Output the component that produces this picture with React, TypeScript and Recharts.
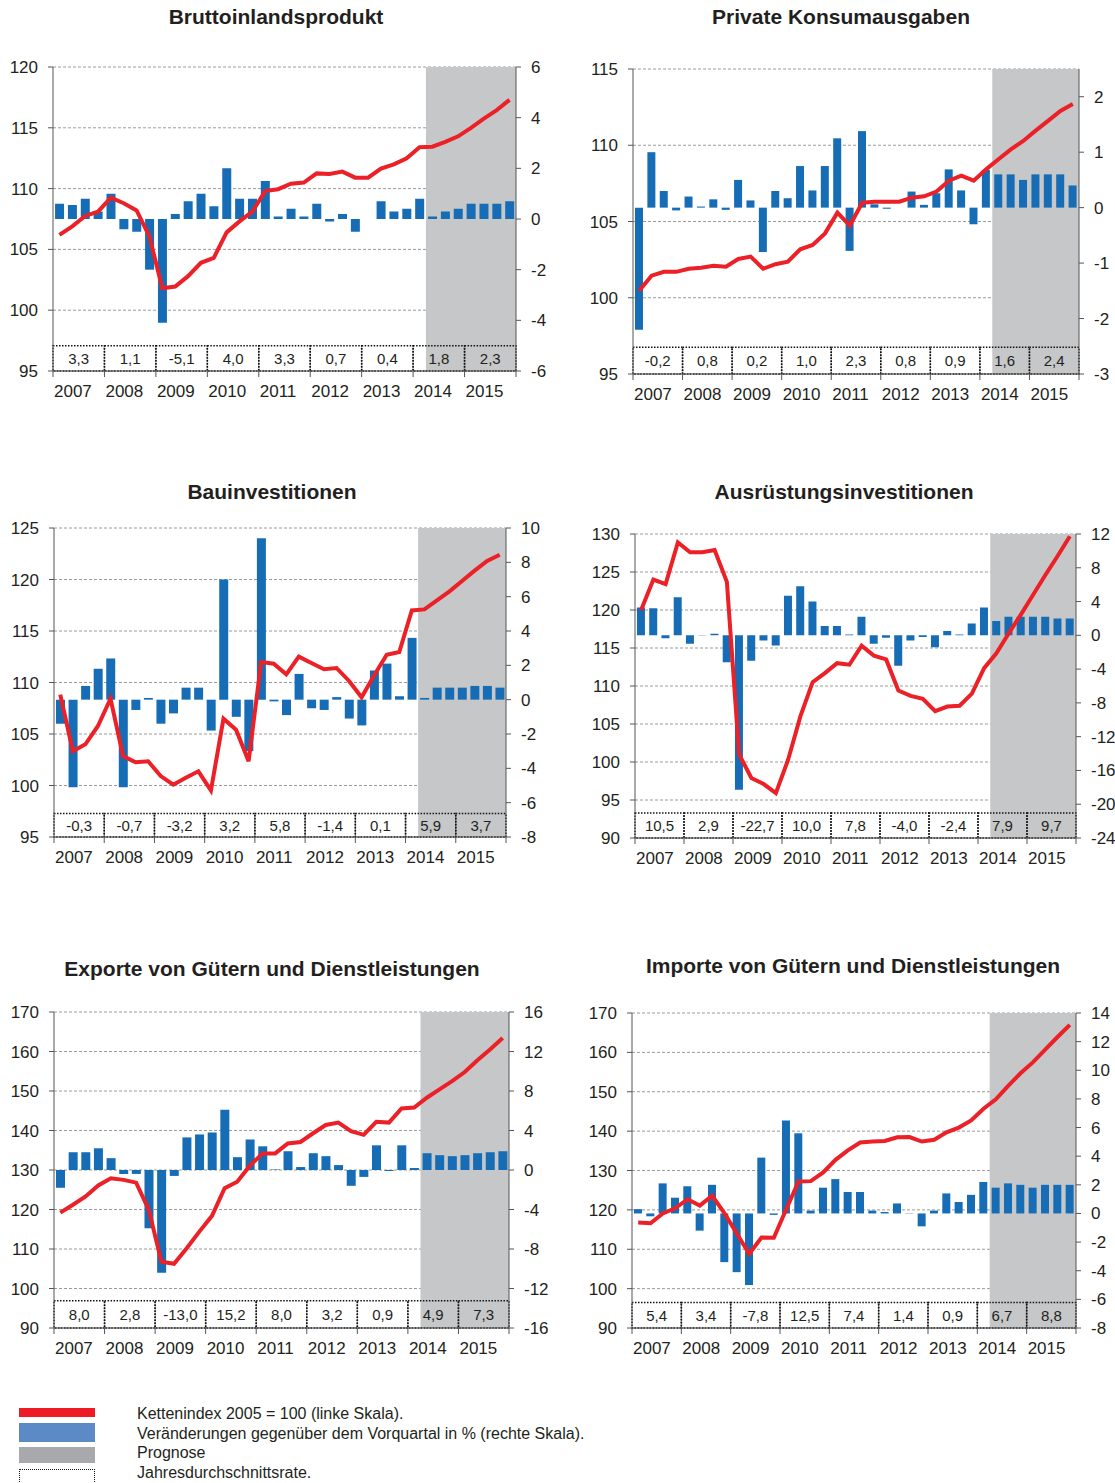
import React from 'react';
import { ComposedChart, Bar, Line, XAxis, YAxis, CartesianGrid, ReferenceArea } from 'recharts';

const YEARS = [2007, 2008, 2009, 2010, 2011, 2012, 2013, 2014, 2015];
const QUARTERS = YEARS.flatMap((y) => [1, 2, 3, 4].map((q) => `${y}Q${q}`));
const FORECAST_START = '2014Q2';
const FORECAST_END = '2015Q4';

// Bruttoinlandsprodukt
const bipIndex = [106.2, 106.9, 107.75, 108.1, 109.25, 108.8, 108.2, 106.05, 101.8, 101.95, 102.8, 103.9, 104.3, 106.4, 107.3, 108.1, 109.8, 109.95, 110.4, 110.5, 111.25, 111.2, 111.4, 110.9, 110.9, 111.65, 112.0, 112.5, 113.4, 113.45, 113.85, 114.3, 115.0, 115.75, 116.45, 117.3];
const bipChange = [0.6, 0.55, 0.8, 0.3, 1.0, -0.4, -0.5, -2.0, -4.1, 0.2, 0.7, 1.0, 0.5, 2.0, 0.8, 0.8, 1.5, 0.1, 0.4, 0.1, 0.6, -0.1, 0.2, -0.5, 0.0, 0.7, 0.3, 0.4, 0.8, 0.1, 0.3, 0.4, 0.6, 0.6, 0.6, 0.7];
const bipAnnual = ['3,3', '1,1', '-5,1', '4,0', '3,3', '0,7', '0,4', '1,8', '2,3'];

// Private Konsumausgaben
const konIndex = [100.46, 101.45, 101.7, 101.7, 101.9, 101.97, 102.1, 102.04, 102.54, 102.7, 101.9, 102.2, 102.37, 103.18, 103.46, 104.22, 105.58, 104.73, 106.23, 106.3, 106.3, 106.3, 106.56, 106.65, 106.96, 107.68, 108.0, 107.68, 108.42, 109.08, 109.73, 110.28, 110.96, 111.6, 112.25, 112.7];
const konChange = [-2.2, 1.0, 0.3, -0.05, 0.2, 0.02, 0.15, -0.04, 0.5, 0.13, -0.8, 0.3, 0.17, 0.75, 0.31, 0.75, 1.25, -0.78, 1.38, 0.06, -0.02, 0.0, 0.29, 0.05, 0.26, 0.69, 0.31, -0.3, 0.68, 0.6, 0.6, 0.5, 0.6, 0.6, 0.6, 0.4];
const konAnnual = ['-0,2', '0,8', '0,2', '1,0', '2,3', '0,8', '0,9', '1,6', '2,4'];

// Bauinvestitionen
const bauIndex = [108.82, 103.32, 104.0, 105.78, 108.43, 102.86, 102.25, 102.35, 100.92, 100.08, 100.76, 101.38, 99.53, 106.49, 105.42, 102.35, 111.99, 111.83, 110.79, 112.51, 111.89, 111.28, 111.41, 110.15, 108.56, 110.7, 112.7, 112.96, 117.0, 117.1, 117.98, 118.85, 119.85, 120.86, 121.8, 122.41];
const bauChange = [-1.4, -5.1, 0.8, 1.8, 2.4, -5.1, -0.6, 0.1, -1.4, -0.8, 0.7, 0.7, -1.8, 7.0, -1.0, -3.0, 9.4, -0.1, -0.9, 1.5, -0.5, -0.6, 0.15, -1.1, -1.5, 1.7, 2.1, 0.2, 3.6, 0.1, 0.7, 0.7, 0.7, 0.8, 0.8, 0.7];
const bauAnnual = ['-0,3', '-0,7', '-3,2', '3,2', '5,8', '-1,4', '0,1', '5,9', '3,7'];

// Ausrüstungsinvestitionen
const ausIndex = [120.0, 124.0, 123.4, 128.9, 127.6, 127.6, 127.9, 123.7, 101.0, 97.9, 97.1, 95.9, 100.3, 106.0, 110.5, 111.7, 113.0, 112.8, 115.3, 114.0, 113.5, 109.4, 108.7, 108.3, 106.7, 107.3, 107.4, 109.0, 112.35, 114.3, 116.9, 119.4, 122.0, 124.6, 127.1, 129.7];
const ausChange = [3.3, 3.2, -0.35, 4.5, -1.0, 0.05, 0.2, -3.2, -18.3, -3.0, -0.6, -1.2, 4.7, 5.8, 4.0, 1.1, 1.1, 0.1, 2.2, -1.0, -0.3, -3.6, -0.6, -0.2, -1.4, 0.5, 0.1, 1.4, 3.3, 1.7, 2.2, 2.2, 2.2, 2.2, 2.0, 2.0];
const ausAnnual = ['10,5', '2,9', '-22,7', '10,0', '7,8', '-4,0', '-2,4', '7,9', '9,7'];

// Exporte
const expIndex = [119.2, 121.2, 123.3, 126.1, 127.9, 127.5, 126.8, 119.9, 106.8, 106.25, 110.2, 114.4, 118.4, 125.4, 127.05, 131.1, 134.2, 134.2, 136.7, 137.1, 139.3, 141.4, 142.0, 139.85, 138.9, 142.2, 142.0, 145.6, 145.8, 148.3, 150.4, 152.5, 154.8, 157.8, 160.5, 163.4];
const expChange = [-1.8, 1.8, 1.8, 2.2, 1.2, -0.4, -0.4, -5.9, -10.4, -0.6, 3.3, 3.6, 3.8, 6.1, 1.3, 3.1, 2.4, 0.05, 1.9, 0.3, 1.7, 1.4, 0.5, -1.6, -0.7, 2.5, -0.1, 2.5, 0.2, 1.7, 1.5, 1.4, 1.5, 1.7, 1.8, 1.9];
const expAnnual = ['8,0', '2,8', '-13,0', '15,2', '8,0', '3,2', '0,9', '4,9', '7,3'];

// Importe
const impIndex = [116.8, 116.6, 119.1, 120.4, 122.7, 121.1, 123.6, 119.1, 114.0, 108.8, 113.0, 112.9, 120.1, 127.2, 127.3, 129.5, 132.7, 135.1, 137.1, 137.35, 137.5, 138.45, 138.5, 137.35, 137.8, 139.7, 140.9, 142.7, 145.7, 148.1, 151.5, 154.7, 157.45, 160.7, 163.9, 167.0];
const impChange = [0.3, -0.2, 2.1, 1.1, 1.9, -1.2, 2.0, -3.4, -4.1, -5.0, 3.9, -0.1, 6.5, 5.6, 0.2, 1.8, 2.4, 1.5, 1.5, 0.2, 0.1, 0.7, -0.02, -0.9, 0.2, 1.4, 0.8, 1.3, 2.2, 1.8, 2.1, 2.0, 1.8, 2.0, 2.0, 2.0];
const impAnnual = ['5,4', '3,4', '-7,8', '12,5', '7,4', '1,4', '0,9', '6,7', '8,8'];

const FONT = '"Liberation Sans", Arial, Helvetica, sans-serif';
const TXT = '#231f20';
const AX = '#555555';
const BLUE = '#176db5';
const RED = '#ec2027';
const SHADE = '#c6c7c8';

type PanelProps = {
  title: string;
  titleX: number;
  titleY: number;
  index: number[];
  change: number[];
  annual: string[];
  left: number;
  right: number;
  top: number;
  bottom: number;
  lDomain: [number, number];
  lTicks: number[];
  rDomain: [number, number];
  rTicks: number[];
  boxTop: number;
};

function Panel(p: PanelProps) {
  const data = QUARTERS.map((q, i) => ({ q, v: p.index[i], b: p.change[i] }));
  const plotW = p.right - p.left;
  const bw = plotW / 36;
  const ML = 60;
  const MR = 60;
  const MT = 10;
  const XH = 40;
  const w = plotW + ML + MR;
  const h = p.bottom - p.top + MT + XH;

  const renderXTick = (props: any) => {
    const { x, y, index } = props;
    const b0 = x - bw / 2;
    return (
      <g>
        {index % 4 === 0 && <line x1={b0} x2={b0} y1={y} y2={y + 6} stroke={AX} />}
        {index === 35 && <line x1={x + bw / 2} x2={x + bw / 2} y1={y} y2={y + 6} stroke={AX} />}
        {index % 4 === 0 && (
          <text x={b0 + 1} y={y + 20} dy="0.355em" textAnchor="start" fontSize={17} fill={TXT} fontFamily={FONT}>
            {QUARTERS[index].slice(0, 4)}
          </text>
        )}
      </g>
    );
  };

  return (
    <>
      <div
        style={{
          position: 'absolute',
          left: p.titleX - 300,
          top: p.titleY - 13,
          width: 600,
          lineHeight: '26px',
          textAlign: 'center',
          fontFamily: FONT,
          fontWeight: 'bold',
          fontSize: 21,
          color: TXT,
        }}
      >
        {p.title}
      </div>
      <div style={{ position: 'absolute', left: p.left - ML, top: p.top - MT }}>
        <ComposedChart
          width={w}
          height={h}
          data={data}
          margin={{ top: MT, right: 0, bottom: 0, left: 0 }}
          barCategoryGap="16%"
        >
          <CartesianGrid yAxisId="L" vertical={false} stroke="#9a9a9a" strokeDasharray="3 2" />
          <XAxis
            dataKey="q"
            interval={0}
            height={XH}
            tickLine={false}
            tickSize={0}
            tickMargin={0}
            tick={renderXTick}
            axisLine={{ stroke: AX }}
          />
          <YAxis
            yAxisId="L"
            orientation="left"
            width={ML}
            domain={p.lDomain}
            ticks={p.lTicks}
            allowDataOverflow
            interval={0}
            tickSize={5}
            tickMargin={10}
            tickLine={{ stroke: AX }}
            axisLine={{ stroke: AX }}
            tick={{ fill: TXT, fontSize: 17, fontFamily: FONT }}
          />
          <YAxis
            yAxisId="R"
            orientation="right"
            width={MR}
            domain={p.rDomain}
            ticks={p.rTicks}
            allowDataOverflow
            interval={0}
            tickSize={5}
            tickMargin={10}
            tickLine={{ stroke: AX }}
            axisLine={{ stroke: AX }}
            tick={{ fill: TXT, fontSize: 17, fontFamily: FONT }}
          />
          <ReferenceArea
            yAxisId="L"
            x1={FORECAST_START}
            x2={FORECAST_END}
            fill={SHADE}
            fillOpacity={1}
            stroke="none"
            ifOverflow="visible"
          />
          {YEARS.map((yr, i) => (
            <ReferenceArea
              key={yr}
              yAxisId="L"
              x1={`${yr}Q1`}
              x2={`${yr}Q4`}
              y1={p.lDomain[0]}
              y2={p.boxTop}
              fill="none"
              fillOpacity={0}
              stroke="#111"
              strokeWidth={1.5}
              strokeDasharray="1.5 1.5"
              ifOverflow="visible"
              label={{ value: p.annual[i], position: 'center', fontSize: 15, fill: TXT, fontFamily: FONT }}
            />
          ))}
          <Bar yAxisId="R" dataKey="b" fill={BLUE} isAnimationActive={false} />
          <Line
            yAxisId="L"
            dataKey="v"
            type="linear"
            stroke={RED}
            strokeWidth={4}
            dot={false}
            activeDot={false}
            isAnimationActive={false}
          />
        </ComposedChart>
      </div>
    </>
  );
}

const range = (a: number, b: number, s: number) => {
  const out: number[] = [];
  for (let v = a; v <= b + 1e-9; v += s) out.push(v);
  return out;
};

export default function App() {
  return (
    <div style={{ position: 'absolute', left: 0, top: 0, width: 1115, height: 1483, background: '#fff', fontFamily: FONT }}>
      <Panel title="Bruttoinlandsprodukt" titleX={276} titleY={17} index={bipIndex} change={bipChange} annual={bipAnnual}
        left={53} right={516} top={67} bottom={371} lDomain={[95, 120]} lTicks={range(95, 120, 5)}
        rDomain={[-6, 6]} rTicks={range(-6, 6, 2)} boxTop={97.08} />
      <Panel title="Private Konsumausgaben" titleX={841} titleY={17} index={konIndex} change={konChange} annual={konAnnual}
        left={633} right={1079} top={69} bottom={374} lDomain={[95, 115]} lTicks={range(95, 115, 5)}
        rDomain={[-3, 2.5]} rTicks={range(-3, 2, 1)} boxTop={96.75} />
      <Panel title="Bauinvestitionen" titleX={272} titleY={492} index={bauIndex} change={bauChange} annual={bauAnnual}
        left={54} right={506} top={528} bottom={837} lDomain={[95, 125]} lTicks={range(95, 125, 5)}
        rDomain={[-8, 10]} rTicks={range(-8, 10, 2)} boxTop={97.27} />
      <Panel title="Ausrüstungsinvestitionen" titleX={844} titleY={492} index={ausIndex} change={ausChange} annual={ausAnnual}
        left={635} right={1076} top={534} bottom={838} lDomain={[90, 130]} lTicks={range(90, 130, 5)}
        rDomain={[-24, 12]} rTicks={range(-24, 12, 4)} boxTop={93.28} />
      <Panel title="Exporte von Gütern und Dienstleistungen" titleX={272} titleY={969} index={expIndex} change={expChange} annual={expAnnual}
        left={54} right={509} top={1012} bottom={1328} lDomain={[90, 170]} lTicks={range(90, 170, 10)}
        rDomain={[-16, 16]} rTicks={range(-16, 16, 4)} boxTop={96.9} />
      <Panel title="Importe von Gütern und Dienstleistungen" titleX={853} titleY={966} index={impIndex} change={impChange} annual={impAnnual}
        left={632} right={1076} top={1013} bottom={1328} lDomain={[90, 170]} lTicks={range(90, 170, 10)}
        rDomain={[-8, 14]} rTicks={range(-8, 14, 2)} boxTop={96.45} />

      {/* Legend */}
      <div style={{ position: 'absolute', left: 19, top: 1408, width: 76, height: 9, background: '#ed1c24' }} />
      <div style={{ position: 'absolute', left: 19, top: 1423, width: 76, height: 19, background: '#5b8ac6' }} />
      <div style={{ position: 'absolute', left: 19, top: 1447, width: 76, height: 16, background: '#a7a9ac' }} />
      <div style={{ position: 'absolute', left: 19, top: 1469, width: 74, height: 20, borderTop: '1.5px dotted #111', borderLeft: '1.5px dotted #111', borderRight: '1.5px dotted #111' }} />
      {[
        ['Kettenindex 2005 = 100 (linke Skala).', 1414],
        ['Veränderungen gegenüber dem Vorquartal in % (rechte Skala).', 1434],
        ['Prognose', 1453],
        ['Jahresdurchschnittsrate.', 1473],
      ].map(([t, y]) => (
        <div key={t as string} style={{ position: 'absolute', left: 137, top: (y as number) - 9, lineHeight: '18px', fontSize: 16, color: TXT, fontFamily: FONT, whiteSpace: 'nowrap' }}>
          {t}
        </div>
      ))}
    </div>
  );
}
